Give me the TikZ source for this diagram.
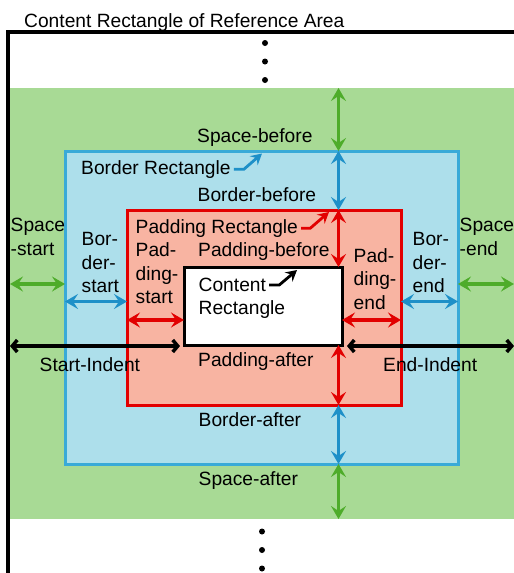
\documentclass[tikz,border=0pt]{standalone}
\usepackage{fontspec}
\setmainfont{Liberation Sans}
\usetikzlibrary{arrows.meta,positioning}
\definecolor{spacefill}{RGB}{168,218,149}
\definecolor{borderfill}{RGB}{173,223,235}
\definecolor{paddingfill}{RGB}{248,180,162}
\definecolor{borderline}{RGB}{57,170,216}
\definecolor{paddingline}{RGB}{226,0,0}
\definecolor{spacearrow}{RGB}{78,172,42}
\definecolor{borderarrow}{RGB}{30,144,200}
\newcommand{\labfont}{\fontsize{19.2}{23.3}\selectfont}

\begin{document}
\begin{tikzpicture}[x=1pt, y=-1pt,
	area/.style={inner sep=0pt, outer sep=0pt, line width=3pt},
	txt/.style={inner sep=0pt, font=\labfont, anchor=base west, align=left},
	dim/.style={line width=3.5pt, {Stealth[length=13pt,width=15pt,inset=5pt]}-{Stealth[length=13pt,width=15pt,inset=5pt]}},
	ind/.style={line width=3.5pt, {Straight Barb[length=5pt,width=12pt]}-{Straight Barb[length=5pt,width=12pt]}},
	pointer/.style={line width=2.8pt, -{Stealth[length=11pt,width=12pt,inset=4pt]}}]
\useasboundingbox (0,0) rectangle (514,573);
% reference area
\draw[line width=3.5pt] (516,32) -- (8,32) -- (8,575);
\node[txt] (title) at (24,27) {Content Rectangle of Reference Area};
\foreach \y in {43,61.5,80} \fill (265,\y) circle (3pt);
\foreach \y in {531.5,550,568.5} \fill (262,\y) circle (3pt);
% nested areas
\node[area, fill=spacefill, minimum width=504pt, minimum height=431pt] (space) at (262,303.5) {};
\node[area, draw=borderline, fill=borderfill, minimum width=393pt, minimum height=313pt] (border) at (261.5,307.5) {};
\node[area, draw=paddingline, fill=paddingfill, minimum width=274pt, minimum height=195pt] (padding) at (264,307.5) {};
\node[area, draw=black, fill=white, minimum width=158pt, minimum height=78pt] (content) at (263,306) {};
% rows and column of the dimension arrows
\coordinate (col) at (338.5,0);
\coordinate (rowspace) at (0,284);
\coordinate (rowborder) at (0,301.5);
\coordinate (rowpadding) at (0,320);
\coordinate (rowindent) at (0,346);
% before / after
\draw[dim, spacearrow] (space.north -| col) -- (border.north -| col);
\draw[dim, borderarrow] (border.north -| col) -- (padding.north -| col);
\draw[dim, paddingline] (padding.north -| col) -- (content.north -| col);
\draw[dim, paddingline] (content.south -| col) -- (padding.south -| col);
\draw[dim, borderarrow] (padding.south -| col) -- (border.south -| col);
\draw[dim, spacearrow] (border.south -| col) -- (space.south -| col);
% start / end
\draw[dim, spacearrow] (space.west |- rowspace) -- (border.west |- rowspace);
\draw[dim, spacearrow] (border.east |- rowspace) -- (space.east |- rowspace);
\draw[dim, borderarrow] (border.west |- rowborder) -- (padding.west |- rowborder);
\draw[dim, borderarrow] (padding.east |- rowborder) -- (border.east |- rowborder);
\draw[dim, paddingline] (padding.west |- rowpadding) -- (content.west |- rowpadding);
\draw[dim, paddingline] (content.east |- rowpadding) -- (padding.east |- rowpadding);
% indents
\coordinate (indstart) at (180,346);
\coordinate (indend) at (347,346);
\draw[ind] (space.west |- rowindent) -- (indstart);
\draw[ind] (indend) -- (space.east |- rowindent);
% labels (multi-line ones sit on their last line)
\node[txt] (spbefore) at (197,142) {Space-before};
\node[txt] (brect) at (81,174.3) {Border Rectangle};
\node[txt] (bdbefore) at (197.5,201) {Border-before};
\node[txt] (spstart) at (10.5,255) {Space\\-start};
\node[txt] (bdstart) at (81.5,292.5) {Bor-\\der-\\start};
\node[txt] (prect) at (135.5,233.3) {Padding Rectangle};
\node[txt] (pdstart) at (135.5,303.3) {Pad-\\ding-\\start};
\node[txt] (pdbefore) at (198,256.7) {Padding-before};
\node[txt] (crect) at (198.5,291.7) {Content};
\node[txt] (crect2) at (198.5,314) {Rectangle};
\node[txt] (pdend) at (353.5,309) {Pad-\\ding-\\end};
\node[txt] (bdend) at (412.5,292.5) {Bor-\\der-\\end};
\node[txt] (spend) at (459.5,255) {Space\\-end};
\node[txt] (stind) at (39.5,371.7) {Start-Indent};
\node[txt] (pdafter) at (198,366.7) {Padding-after};
\node[txt] (endind) at (383,371.7) {End-Indent};
\node[txt] (bdafter) at (198.5,426) {Border-after};
\node[txt] (spafter) at (198.5,485) {Space-after};
% pointers
\coordinate (btip) at (262,153.5);
\coordinate (ptip) at (329,212);
\coordinate (ctip) at (297,270);
\draw[pointer, borderarrow] ([xshift=3pt]brect.east) -- ++(10,0) -- (btip);
\draw[pointer, paddingline] ([xshift=3pt]prect.east) -- ++(9,0) -- (ptip);
\draw[pointer, black] ([xshift=3pt]crect.east) -- ++(10,0) -- (ctip);
\end{tikzpicture}
\end{document}
